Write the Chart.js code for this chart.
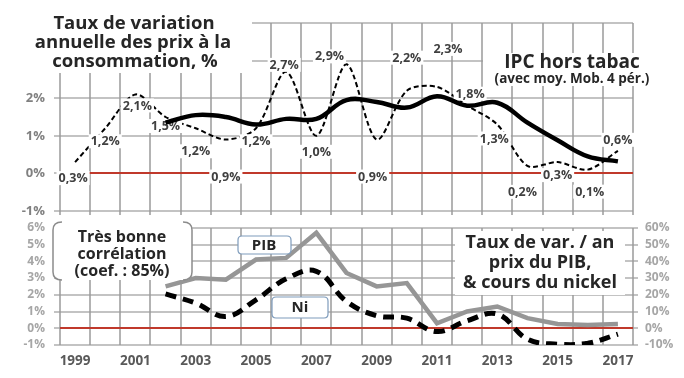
<!DOCTYPE html>
<html><head><meta charset="utf-8">
<script src="https://cdn.jsdelivr.net/npm/chart.js@4.4.1/dist/chart.umd.min.js"></script>
</head><body style="margin:0;background:#fff">
<canvas id="c" width="684" height="378" style="width:684px;height:378px"></canvas>
<script>
// ---- data ----
const years = ['1999','2000','2001','2002','2003','2004','2005','2006','2007','2008','2009','2010','2011','2012','2013','2014','2015','2016','2017'];
const ipc = [0.3,1.2,2.1,1.5,1.2,0.9,1.2,2.7,1.0,2.9,0.9,2.2,2.3,1.8,1.3,0.2,0.3,0.1,0.6];
const ipcMoy = [null,null,null,1.35,1.55,1.5,1.3,1.45,1.45,1.95,1.9,1.75,2.05,1.8,1.88,1.35,0.88,0.45,0.32];
const pib = [null,null,null,2.5,3.0,2.9,4.1,4.2,5.7,3.3,2.5,2.7,0.3,1.0,1.3,0.6,0.25,0.2,0.25];
const nickel = [null,null,null,20.5,15,7,17,29.5,34,16,7.5,6,-2,4.5,8.5,-6.5,-9.5,-9,-3.5];
const topTicks = {min:-1, max:4, step:1};
const botTicks = {min:-1, max:6, step:1};
const botTicksRight = {min:-10, max:60, step:10};
// label offsets (dx, dy) relative to each IPC point
const ipcLabelOffsets = [[-2,16],[0,13],[2,11],[0,9],[0,23],[0,37],[0,13],[-2,-7],[0,16],[-17,-8],[-4,37],[0,-33],[11,-38],[3,-12],[-3,14],[-5,26],[0,13],[2,22],[0,-11]];

const FONT = '"Open Sans", sans-serif';
const VGRID = '#9a9a9a';
const HGRID = '#b0b0b0';
const RED = '#c0392b';
const fmt = v => v.toFixed(1).replace('.', ',') + '%';

function rrect(ctx, x, y, w, h, r) {
  ctx.beginPath();
  ctx.moveTo(x + r, y);
  ctx.lineTo(x + w - r, y); ctx.quadraticCurveTo(x + w, y, x + w, y + r);
  ctx.lineTo(x + w, y + h - r); ctx.quadraticCurveTo(x + w, y + h, x + w - r, y + h);
  ctx.lineTo(x + r, y + h); ctx.quadraticCurveTo(x, y + h, x, y + h - r);
  ctx.lineTo(x, y + r); ctx.quadraticCurveTo(x, y, x + r, y);
  ctx.closePath();
}
// grid segments painted as thin filled rectangles
function hbar(ctx, x1, x2, y, w) { ctx.fillRect(x1, y - w / 2, x2 - x1, w); }
function vbar(ctx, x, y1, y2, w) { ctx.fillRect(x - w / 2, y1, w, y2 - y1); }

const gridLines = {
  id: 'gridlines',
  beforeDatasetsDraw(chart) {
    const ctx = chart.ctx, a = chart.chartArea, xs = chart.scales.x;
    const yt = chart.scales.yTop, yb = chart.scales.yBot, yr = chart.scales.yBotR;
    const botTop = Math.round(yb.getPixelForValue(botTicks.max));
    ctx.save();
    ctx.globalAlpha = 1;
    ctx.globalCompositeOperation = 'source-over';
    ctx.fillStyle = HGRID;
    yt.ticks.forEach(t => { const y = Math.round(yt.getPixelForValue(t.value)); hbar(ctx, a.left - 6, a.right, y, 1.5); });
    yb.ticks.forEach(t => { if (t.value > botTicks.max) return; const y = Math.round(yb.getPixelForValue(t.value)); hbar(ctx, a.left - 6, a.right, y, 1.5); });
    yr.ticks.forEach(t => { if (t.value > botTicksRight.max) return; const y = Math.round(yr.getPixelForValue(t.value)); hbar(ctx, a.right, a.right + 5, y, 1.5); });
    ctx.fillStyle = VGRID;
    const n = years.length;
    for (let i = 0; i <= n; i++) {
      let x;
      if (i === 0) x = a.left;
      else if (i === n) x = a.right;
      else x = (xs.getPixelForValue(i - 1) + xs.getPixelForValue(i)) / 2;
      x = Math.round(x);
      vbar(ctx, x, yt.top, yt.bottom + 4, 1.5);
      vbar(ctx, x, botTop, yb.bottom, 1.5);
    }
    ctx.fillStyle = RED;
    const y0t = Math.round(yt.getPixelForValue(0)), y0b = Math.round(yb.getPixelForValue(0));
    hbar(ctx, a.left, a.right, y0t, 2);
    hbar(ctx, a.left, a.right, y0b, 2);
    ctx.restore();
  }
};

const ipcLabels = {
  id: 'ipclabels',
  afterDatasetDraw(chart, args) {
    if (args.meta.label !== 'IPC') return;
    const ctx = chart.ctx;
    ctx.save();
    ctx.font = 'bold 12.5px ' + FONT;
    ctx.textAlign = 'center'; ctx.textBaseline = 'middle';
    args.meta.data.forEach((pt, i) => {
      const v = ipc[i];
      if (v == null) return;
      const off = ipcLabelOffsets[i];
      const x = pt.x + off[0], y = pt.y + off[1];
      const t = fmt(v);
      const w = ctx.measureText(t).width;
      ctx.fillStyle = '#fff';
      ctx.fillRect(x - w / 2 - 2, y - 7, w + 4, 14);
      ctx.fillStyle = '#404040';
      ctx.fillText(t, x, y + 0.5);
    });
    ctx.restore();
  }
};

const notes = {
  id: 'notes',
  afterDraw(chart) {
    const ctx = chart.ctx;
    ctx.save();
    ctx.textAlign = 'center'; ctx.textBaseline = 'middle';
    // top panel
    ctx.fillStyle = '#fff';
    ctx.fillRect(0, 0, 252, 73);
    ctx.fillRect(483, 53, 180, 33);
    ctx.fillStyle = '#262626';
    ctx.font = 'bold 18.5px ' + FONT;
    ctx.fillText('Taux de variation', 134, 24);
    ctx.fillText('annuelle des prix à la', 133, 43);
    ctx.fillText('consommation, %', 135, 62);
    ctx.font = 'bold 19px ' + FONT;
    ctx.fillText('IPC hors tabac', 572, 63);
    ctx.font = 'bold 13.5px ' + FONT;
    ctx.fillText('(avec moy. Mob. 4 pér.)', 572, 79);
    // bottom panel: bracket box
    ctx.fillStyle = '#fff';
    rrect(ctx, 53, 222, 139, 58, 7); ctx.fill();
    ctx.strokeStyle = '#8c8c8c'; ctx.lineWidth = 1.5;
    ctx.beginPath();
    ctx.moveTo(62, 222); ctx.quadraticCurveTo(53, 222, 53, 230); ctx.lineTo(53, 272); ctx.quadraticCurveTo(53, 280, 62, 280);
    ctx.moveTo(183, 222); ctx.quadraticCurveTo(192, 222, 192, 230); ctx.lineTo(192, 272); ctx.quadraticCurveTo(192, 280, 183, 280);
    ctx.stroke();
    ctx.fillStyle = '#262626';
    ctx.font = 'bold 16px ' + FONT;
    ctx.fillText('Très bonne', 122, 237);
    ctx.fillText('corrélation', 122, 254);
    ctx.fillText('(coef. : 85%)', 122, 271);
    // PIB & Ni boxes
    ctx.lineWidth = 1.2; ctx.strokeStyle = '#7f9cbc';
    ctx.fillStyle = '#fff';
    rrect(ctx, 238, 236, 53, 18, 4); ctx.fill(); ctx.stroke();
    rrect(ctx, 272, 297, 56, 21, 4); ctx.fill(); ctx.stroke();
    ctx.fillStyle = '#262626';
    ctx.font = 'bold 15px ' + FONT;
    ctx.fillText('PIB', 264, 245.5);
    ctx.fillText('Ni', 300, 308);
    // right text block
    ctx.fillStyle = '#fff';
    ctx.fillRect(455, 231, 170, 64);
    ctx.fillStyle = '#262626';
    ctx.font = 'bold 18px ' + FONT;
    ctx.fillText('Taux de var. / an', 540, 243);
    ctx.fillText('prix du PIB,', 540, 263);
    ctx.fillText('& cours du nickel', 540, 283);
    ctx.restore();
  }
};

const noGrid = { display: false, drawTicks: false };
const noBorder = { display: false };

new Chart(document.getElementById('c'), {
  type: 'line',
  data: {
    labels: years,
    datasets: [
      { label: 'IPC', data: ipc, yAxisID: 'yTop', order: 1, borderColor: '#000', borderWidth: 2, borderDash: [5, 3], tension: 0.3, pointRadius: 0, fill: false },
      { label: 'Moy', data: ipcMoy, yAxisID: 'yTop', order: 0, borderColor: '#000', borderWidth: 4.5, tension: 0.4, pointRadius: 0, fill: false },
      { label: 'PIB', data: pib, yAxisID: 'yBot', order: 2, borderColor: '#969696', borderWidth: 4.5, tension: 0, pointRadius: 0, fill: false },
      { label: 'Ni', data: nickel, yAxisID: 'yBotR', order: 3, borderColor: '#000', borderWidth: 5, borderDash: [11, 7], tension: 0.4, pointRadius: 0, fill: false }
    ]
  },
  options: {
    responsive: false, animation: false,
    layout: { padding: { top: 23, right: 0, bottom: 0, left: 0 } },
    plugins: { legend: { display: false }, tooltip: { enabled: false } },
    scales: {
      x: {
        type: 'category', offset: true, position: 'bottom',
        grid: noGrid, border: noBorder,
        ticks: { autoSkip: false, maxRotation: 0, color: '#595959', font: { family: FONT, size: 13.5, weight: 'bold' }, padding: 8,
          callback: (v, i) => (i % 2 === 0 ? years[i] : '') },
        afterFit: s => { s.height = 33; }
      },
      yBot: {
        type: 'linear', position: 'left', stack: 'left', stackWeight: 134,
        min: botTicks.min, max: botTicks.max + botTicks.step,
        ticks: { stepSize: botTicks.step, autoSkip: false, color: '#a6a6a6', font: { family: FONT, size: 12, weight: 'bold' }, padding: 15,
          callback: v => (v > botTicks.max ? '' : v + '%') },
        grid: noGrid, border: noBorder,
        afterFit: s => { s.width = 60; }
      },
      yTop: {
        type: 'linear', position: 'left', stack: 'left', stackWeight: 188,
        min: topTicks.min, max: topTicks.max,
        ticks: { stepSize: topTicks.step, autoSkip: false, color: '#808080', font: { family: FONT, size: 13, weight: 'bold' }, padding: 15,
          callback: v => v + '%' },
        grid: noGrid, border: noBorder,
        afterFit: s => { s.width = 60; }
      },
      yTopR: {
        type: 'linear', position: 'right', stack: 'right', stackWeight: 188,
        min: 0, max: 1,
        ticks: { display: false },
        grid: noGrid, border: noBorder,
        afterFit: s => { s.width = 51; }
      },
      yBotR: {
        type: 'linear', position: 'right', stack: 'right', stackWeight: 134,
        min: botTicksRight.min, max: botTicksRight.max + botTicksRight.step,
        ticks: { stepSize: botTicksRight.step, autoSkip: false, color: '#a6a6a6', font: { family: FONT, size: 12, weight: 'bold' }, padding: 12,
          callback: v => (v > botTicksRight.max ? '' : v + '%') },
        grid: noGrid, border: noBorder,
        afterFit: s => { s.width = 51; }
      }
    }
  },
  plugins: [gridLines, ipcLabels, notes]
});
</script>
</body></html>
